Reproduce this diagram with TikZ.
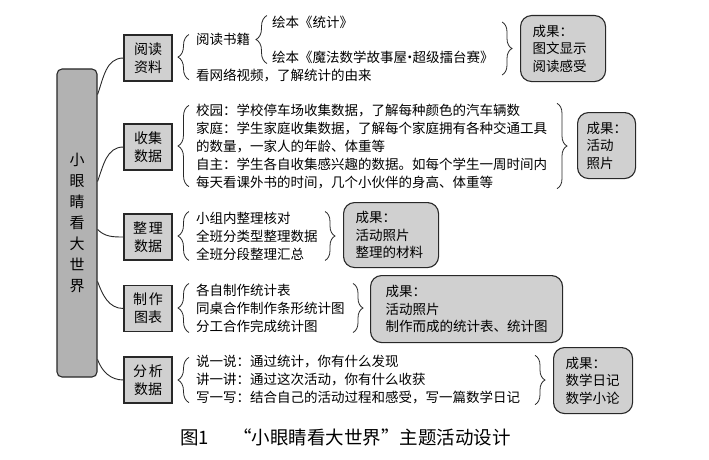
\documentclass[tikz,border=0pt]{standalone}
\usepackage{fontspec}
\setmainfont{Noto Sans CJK SC}
\usetikzlibrary{decorations.pathreplacing}

\definecolor{maingray}{RGB}{178,178,178}
\definecolor{boxgray}{RGB}{208,208,208}
\definecolor{inkgray}{RGB}{40,40,40}

\tikzset{
  txt/.style={anchor=west, inner sep=0pt, align=left, font=\fontsize{13.5}{18}\selectfont},
  catbox/.style={draw=inkgray, fill=boxgray, line width=1.1pt, minimum width=48pt, minimum height=46pt,
    inner sep=0pt, align=center, font=\fontsize{14}{18}\selectfont},
  resbox/.style={draw=inkgray, fill=boxgray, line width=1.1pt, rounded corners=11pt, anchor=north west,
    align=left, inner xsep=12pt, inner ysep=0pt, font=\fontsize{13.5}{17.5}\selectfont},
  lbrace/.style={draw=inkgray, line width=0.8pt, decorate, decoration={brace, amplitude=11pt}},
  rbrace/.style={draw=inkgray, line width=0.8pt, decorate, decoration={brace, amplitude=10pt}},
  link/.style={draw=inkgray, line width=0.9pt}
}

\begin{document}
\begin{tikzpicture}[x=1pt, y=1pt]
  \useasboundingbox (0,0) rectangle (709,-460);

  \node[draw=inkgray, fill=maingray, line width=1.1pt, rounded corners=5pt, minimum width=40pt,
    minimum height=308pt, inner sep=0pt, align=center, font=\fontsize{15}{21}\selectfont]
    (world) at (77,-223) {小\\眼\\睛\\看\\大\\世\\界};

  \node[catbox] (read) at (148,-58) {阅读\\资料};
  \node[catbox] (collect) at (148,-147) {收集\\数据};
  \node[catbox] (sort) at (148,-237) {整\hspace{2pt}理\\数据};
  \node[catbox] (chart) at (148,-308.5) {制\hspace{2pt}作\\图表};
  \node[catbox] (analyse) at (148,-380) {分\hspace{2pt}析\\数据};

  \draw[link] ([yshift=-26pt]world.north east) to[out=70,in=180] (read.west);
  \draw[link] ([yshift=-113pt]world.north east) to[out=70,in=180] (collect.west);
  \draw[link] ([yshift=-161pt]world.north east) to[out=-45,in=180] (sort.west);
  \draw[link] ([yshift=-213pt]world.north east) to[out=-70,in=180] (chart.west);
  \draw[link] ([yshift=-291pt]world.north east) to[out=-70,in=180] (analyse.west);

  % reading
  \node[txt] (book) at (196,-39) {阅读书籍};
  \node[txt] (bookA) at (272,-22) {绘本《统计》};
  \node[txt] (bookB) at (272,-57) {绘本《魔法数学故事屋\kern-4pt•\kern-4pt超级擂台赛》};
  \node[txt] (video) at (196,-75) {看网络视频，了解统计的由来};
  \draw[lbrace] ([xshift=-7pt,yshift=2pt]video.south west) -- ([xshift=-7pt,yshift=-2pt]book.north west);
  \draw[lbrace] ([xshift=-5pt]bookB.south west) -- ([xshift=-5pt]bookA.north west);

  % collecting
  \node[txt] (collecttxt) at (196,-146) {校园：学校停车场收集数据，了解每种颜色的汽车辆数\\
    家庭：学生家庭收集数据，了解每个家庭拥有各种交通工具\\的数量，一家人的年龄、体重等\\
    自主：学生各自收集感兴趣的数据。如每个学生一周时间内\\每天看课外书的时间，几个小伙伴的身高、体重等};
  \draw[lbrace] ([xshift=-7pt,yshift=2pt]collecttxt.south west) -- ([xshift=-7pt,yshift=-2pt]collecttxt.north west);

  % sorting
  \node[txt] (sorttxt) at (196,-236) {小组内整理核对\\全班分类型整理数据\\全班分段整理汇总};
  \draw[lbrace] ([xshift=-7pt]sorttxt.south west) -- ([xshift=-7pt]sorttxt.north west);

  % charts
  \node[txt] (charttxt) at (196,-308) {各自制作统计表\\同桌合作制作条形统计图\\分工合作完成统计图};
  \draw[lbrace] ([xshift=-7pt]charttxt.south west) -- ([xshift=-7pt]charttxt.north west);

  % analysing
  \node[txt] (analysetxt) at (196,-380) {说一说：通过统计，你有什么发现\\讲一讲：通过这次活动，你有什么收获\\
    写一写：结合自己的活动过程和感受，写一篇数学日记};
  \draw[lbrace] ([xshift=-7pt,yshift=2pt]analysetxt.south west) -- ([xshift=-7pt,yshift=-2pt]analysetxt.north west);

  % results
  \node[resbox, text width=61pt, minimum height=66pt] (res1) at (520,-15) {成果：\\图文显示\\阅读感受};
  \node[resbox, text width=40pt, inner xsep=9pt, minimum height=66pt] (res2) at (577,-112) {成果：\\活动\\照片};
  \node[resbox, text width=71pt, minimum height=65pt] (res3) at (343,-202) {成果：\\活动照片\\整理的材料};
  \node[resbox, text width=162pt, inner xsep=15pt, minimum height=67pt] (res4) at (370,-275) {成果：\\活动照片\\制作而成的统计表、统计图};
  \node[resbox, text width=55pt, minimum height=66pt] (res5) at (553,-347) {成果：\\数学日记\\数学小论};

  \coordinate (r1) at ([xshift=-18pt]res1.west);
  \coordinate (r2) at ([xshift=-20pt]res2.west);
  \coordinate (r3) at ([xshift=-18pt]res3.west);
  \coordinate (r4) at ([xshift=-17pt]res4.west);
  \coordinate (r5) at ([xshift=-18pt]res5.west);
  \draw[rbrace] (r1 |- bookA) -- (r1 |- video);
  \draw[rbrace] (r2 |- collecttxt.north) -- (r2 |- collecttxt.south);
  \draw[rbrace] (r3 |- sorttxt.north) -- (r3 |- sorttxt.south);
  \draw[rbrace] (r4 |- charttxt.north) -- (r4 |- charttxt.south);
  \draw[rbrace] (r5 |- analysetxt.north) -- (r5 |- analysetxt.south);

  \node[anchor=west, inner sep=0pt, font=\fontsize{18.5}{21}\selectfont] (caption) at (180,-437)
    {图1\hspace{1.3em}“小眼睛看大世界”主题活动设计};
\end{tikzpicture}
\end{document}
